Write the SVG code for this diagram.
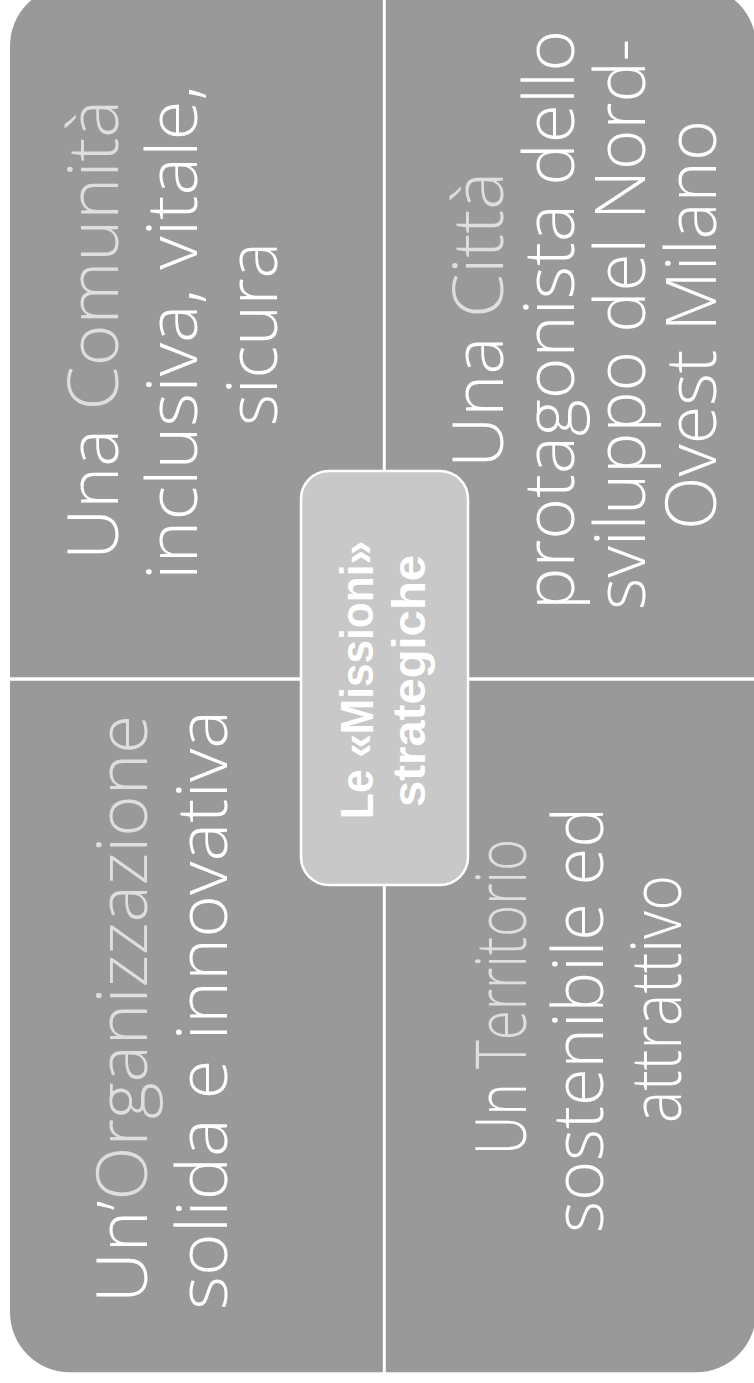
<svg xmlns="http://www.w3.org/2000/svg" width="754" height="1383" viewBox="0 0 754 1383">
<style>
.q{fill:#999999}
.t{font-family:"Open Sans","Lato","Liberation Sans",sans-serif;font-weight:300;font-size:70px;fill:#ffffff;text-anchor:middle}
.lg{fill:#dedede}
.c{font-family:"Liberation Sans","Arial",sans-serif;font-weight:bold;font-size:46px;fill:#ffffff;text-anchor:middle}
.box{fill:#c8c8c8;stroke:#ffffff;stroke-width:2.5}
</style>
<rect width="754" height="1383" fill="#ffffff"/>
<g id="connectors"></g>
<g id="q-tl">
<path class="q" d="M10,677.3 V46 A60,60 0 0 1 70,-14 H382.8 V677.3 Z"/>
<text class="t" transform="translate(118,330) rotate(-90)" textLength="460" lengthAdjust="spacingAndGlyphs">Una <tspan class="lg">Comunità</tspan></text>
<text class="t" transform="translate(197,332.5) rotate(-90)" textLength="495" lengthAdjust="spacingAndGlyphs">inclusiva, vitale,</text>
<text class="t" transform="translate(277,334) rotate(-90)" textLength="184" lengthAdjust="spacingAndGlyphs">sicura</text>
</g>
<g id="q-tr">
<path class="q" d="M385.8,-14 H696 A60,60 0 0 1 756,46 V677.3 H385.8 Z"/>
<text class="t" transform="translate(503,320) rotate(-90)" textLength="296" lengthAdjust="spacingAndGlyphs">Una <tspan class="lg">Città</tspan></text>
<text class="t" transform="translate(574,320) rotate(-90)" textLength="580" lengthAdjust="spacingAndGlyphs">protagonista dello</text>
<text class="t" transform="translate(645,324.5) rotate(-90)" textLength="571" lengthAdjust="spacingAndGlyphs">sviluppo del Nord-</text>
<text class="t" transform="translate(716,325) rotate(-90)" textLength="410" lengthAdjust="spacingAndGlyphs">Ovest Milano</text>
</g>
<g id="q-bl">
<path class="q" d="M10,680.8 H382.8 V1372.3 H70 A60,60 0 0 1 10,1312.3 Z"/>
<text class="t" transform="translate(147,1009) rotate(-90)" textLength="588" lengthAdjust="spacingAndGlyphs">Un’<tspan class="lg">Organizzazione</tspan></text>
<text class="t" transform="translate(227,1010) rotate(-90)" textLength="600" lengthAdjust="spacingAndGlyphs">solida e innovativa</text>
</g>
<g id="q-br">
<path class="q" d="M385.8,680.8 H756 V1312.3 A60,60 0 0 1 696,1372.3 H385.8 Z"/>
<text class="t" transform="translate(526,997) rotate(-90)" textLength="316" lengthAdjust="spacingAndGlyphs">Un <tspan class="lg">Territorio</tspan></text>
<text class="t" transform="translate(603,1020) rotate(-90)" textLength="426" lengthAdjust="spacingAndGlyphs">sostenibile ed</text>
<text class="t" transform="translate(681,999) rotate(-90)" textLength="248" lengthAdjust="spacingAndGlyphs">attrattivo</text>
</g>
<g id="center">
<rect class="box" x="301" y="471" width="167" height="414" rx="28" ry="28"/>
<text class="c" transform="translate(373,680) rotate(-90)" textLength="278" lengthAdjust="spacingAndGlyphs">Le «Missioni»</text>
<text class="c" transform="translate(425,681) rotate(-90)" textLength="252" lengthAdjust="spacingAndGlyphs">strategiche</text>
</g>
</svg>
